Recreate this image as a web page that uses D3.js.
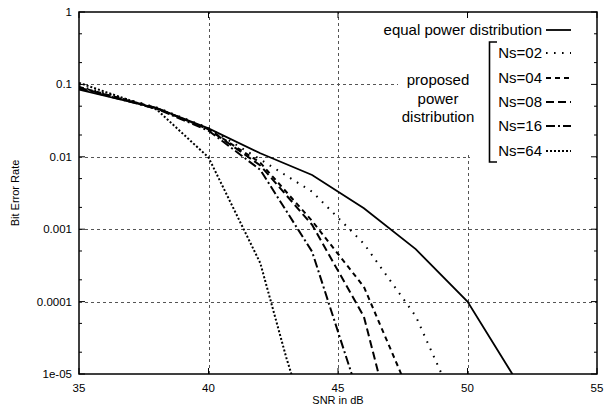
<!DOCTYPE html>
<html>
<head>
<meta charset="utf-8">
<script src="https://cdn.jsdelivr.net/npm/d3@7"></script>
<style>
  body { margin: 0; background: #fff; }
  text { font-family: "Liberation Sans", Arial, sans-serif; fill: #000; }
</style>
</head>
<body>
<svg id="chart" width="607" height="410"></svg>
<script>
// data
const xTicks = [35, 40, 45, 50, 55];
const yTicks = [1, 0.1, 0.01, 0.001, 0.0001, 0.00001];
const yTickLabels = ["1", "0.1", "0.01", "0.001", "0.0001", "1e-05"];

const equalSnr = [35, 38, 40, 42, 44, 46, 48, 50, 52];
const equalBer = [0.085, 0.047, 0.0247, 0.0112, 0.0056, 0.00195, 0.00053, 0.0001, 0.000007];

const ns02Snr = [35, 38, 40, 42, 44, 46, 48, 50];
const ns02Ber = [0.095, 0.048, 0.025, 0.0092, 0.0033, 0.00063, 0.000063, 0.0000016];

const ns04Snr = [35, 38, 40, 42, 44, 46, 48];
const ns04Ber = [0.092, 0.047, 0.024, 0.0083, 0.0013, 0.00016, 0.0000034];

const ns08Snr = [35, 38, 40, 42, 44, 46, 47];
const ns08Ber = [0.09, 0.047, 0.024, 0.0076, 0.00115, 0.000062, 0.0000025];

const ns16Snr = [35, 38, 40, 42, 44, 46];
const ns16Ber = [0.088, 0.046, 0.023, 0.0066, 0.00049, 0.000003];

const ns64Snr = [35, 38, 40, 42, 43, 44];
const ns64Ber = [0.105, 0.045, 0.0098, 0.00034, 0.000017, 0.0000012];

const seriesNames = ["equal power distribution", "Ns=02", "Ns=04", "Ns=08", "Ns=16", "Ns=64"];

// styles per series
const dashes = [null, "1.6,6.4", "5,4", "8,4", "9,3,2,3", "2,2"];

const width = 607, height = 410;
const margin = {top: 12, right: 10, bottom: 36, left: 79};

const svg = d3.select("#chart");

const x = d3.scaleLinear()
  .domain([35, 55])
  .range([margin.left, width - margin.right]);
const y = d3.scaleLog()
  .domain([1e-5, 1])
  .range([height - margin.bottom, margin.top]);

const x0 = x.range()[0], x1 = x.range()[1];
const y0 = y.range()[0], y1 = y.range()[1];

svg.append("defs").append("clipPath").attr("id", "plot")
  .append("rect").attr("x", x0).attr("y", y1).attr("width", x1 - x0).attr("height", y0 - y1);

// grid
const grid = svg.append("g").attr("stroke", "#555").attr("stroke-width", 1).attr("stroke-dasharray", "3,3");
grid.selectAll(".gx").data(xTicks.slice(1, -1)).join("line")
  .attr("x1", d => Math.round(x(d)) + 0.5).attr("x2", d => Math.round(x(d)) + 0.5)
  .attr("y1", y0).attr("y2", y1);
grid.selectAll(".gy").data(yTicks.slice(1, -1)).join("line")
  .attr("y1", d => Math.round(y(d)) + 0.5).attr("y2", d => Math.round(y(d)) + 0.5)
  .attr("x1", x0).attr("x2", x1);

// curves
const seriesData = [
  d3.zip(equalSnr, equalBer),
  d3.zip(ns02Snr, ns02Ber),
  d3.zip(ns04Snr, ns04Ber),
  d3.zip(ns08Snr, ns08Ber),
  d3.zip(ns16Snr, ns16Ber),
  d3.zip(ns64Snr, ns64Ber)
];
const line = d3.line().x(d => x(d[0])).y(d => y(d[1]));

// opaque key area (covers the grid like the original)
const key = svg.append("g");
key.append("rect").attr("x", 398).attr("y", y1 + 1).attr("width", x1 - 399).attr("height", 139).attr("fill", "#fff");
key.append("rect").attr("x", 470).attr("y", y1 + 1).attr("width", x1 - 471).attr("height", 151).attr("fill", "#fff");

svg.append("g").attr("clip-path", "url(#plot)")
  .selectAll("path").data(seriesData).join("path")
  .attr("d", line)
  .attr("fill", "none")
  .attr("stroke", "#000")
  .attr("stroke-width", (d, i) => i === 0 ? 1.8 : 2)
  .attr("stroke-dasharray", (d, i) => dashes[i]);

// frame
svg.append("rect").attr("x", x0).attr("y", y1).attr("width", x1 - x0).attr("height", y0 - y1)
  .attr("fill", "none").attr("stroke", "#000").attr("stroke-width", 1.5);

// ticks (inward, mirrored)
const ticks = svg.append("g").attr("stroke", "#000").attr("stroke-width", 1);
const minor = [];
for (let e = -5; e < 0; e++) { minor.push(2 * Math.pow(10, e), 5 * Math.pow(10, e)); }
ticks.selectAll(".yl").data(yTicks).join("line")
  .attr("x1", x0).attr("x2", x0 + 6).attr("y1", d => y(d)).attr("y2", d => y(d));
ticks.selectAll(".yr").data(yTicks).join("line")
  .attr("x1", x1).attr("x2", x1 - 6).attr("y1", d => y(d)).attr("y2", d => y(d));
ticks.selectAll(".ml").data(minor).join("line")
  .attr("x1", x0).attr("x2", x0 + 3).attr("y1", d => y(d)).attr("y2", d => y(d));
ticks.selectAll(".mr").data(minor).join("line")
  .attr("x1", x1).attr("x2", x1 - 3).attr("y1", d => y(d)).attr("y2", d => y(d));
ticks.selectAll(".xb").data(xTicks).join("line")
  .attr("x1", d => x(d)).attr("x2", d => x(d)).attr("y1", y0).attr("y2", y0 - 6);
ticks.selectAll(".xt").data(xTicks).join("line")
  .attr("x1", d => x(d)).attr("x2", d => x(d)).attr("y1", y1).attr("y2", y1 + 6);

// tick labels
svg.append("g").selectAll("text").data(yTicks).join("text")
  .attr("x", x0 - 7).attr("y", d => y(d)).attr("dy", "0.35em")
  .attr("text-anchor", "end").attr("font-size", 11.5)
  .text((d, i) => yTickLabels[i]);
svg.append("g").selectAll("text").data(xTicks).join("text")
  .attr("x", d => x(d)).attr("y", y0 + 14).attr("dy", "0.35em")
  .attr("text-anchor", "middle").attr("font-size", 11.5)
  .text(d => d);

// axis titles
svg.append("text").attr("x", (x0 + x1) / 2).attr("y", 404)
  .attr("text-anchor", "middle").attr("font-size", 11).text("SNR in dB");
svg.append("text").attr("transform", `translate(19,${(y0 + y1) / 2}) rotate(-90)`)
  .attr("text-anchor", "middle").attr("font-size", 11).text("Bit Error Rate");

// legend
const keyRows = [30, 53, 78, 102, 126, 151];
key.selectAll("text.name").data(seriesNames).join("text")
  .attr("class", "name")
  .attr("x", 542).attr("y", (d, i) => keyRows[i]).attr("dy", "0.35em")
  .attr("text-anchor", "end").attr("font-size", 15)
  .text(d => d);
key.selectAll("line.sample").data(seriesNames).join("line")
  .attr("class", "sample")
  .attr("x1", 546).attr("x2", 571)
  .attr("y1", (d, i) => keyRows[i]).attr("y2", (d, i) => keyRows[i])
  .attr("stroke", "#000").attr("stroke-width", (d, i) => i === 0 ? 1.8 : 2)
  .attr("stroke-dasharray", (d, i) => dashes[i]);

key.append("path")
  .attr("d", `M497,${keyRows[1] - 11}H489.5V${keyRows[5] + 11}H497`)
  .attr("fill", "none").attr("stroke", "#000").attr("stroke-width", 1.6);

key.selectAll("text.prop").data(["proposed", "power", "distribution"]).join("text")
  .attr("class", "prop")
  .attr("x", 438).attr("y", (d, i) => 80 + i * 18.5).attr("dy", "0.35em")
  .attr("text-anchor", "middle").attr("font-size", 15)
  .text(d => d);
</script>
</body>
</html>
